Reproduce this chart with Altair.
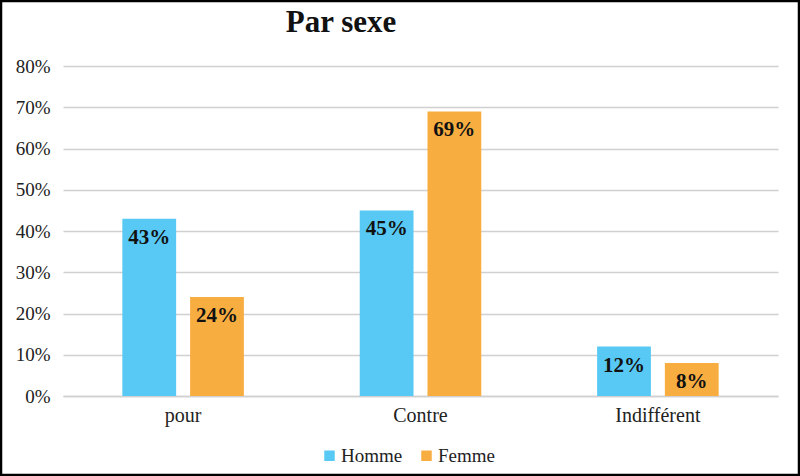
import altair as alt
import pandas as pd

categories = ["pour", "Contre", "Indifférent"]
series = ["Homme", "Femme"]
homme = [0.43, 0.45, 0.12]
femme = [0.24, 0.69, 0.08]
labels_h = ["43%", "45%", "12%"]
labels_f = ["24%", "69%", "8%"]
title_text = "Par sexe"

rows = []
for i, c in enumerate(categories):
    rows.append({"cat": c, "sexe": "Homme", "val": homme[i], "lab": labels_h[i]})
    rows.append({"cat": c, "sexe": "Femme", "val": femme[i], "lab": labels_f[i]})
df = pd.DataFrame(rows)

FONT = "Liberation Serif, Times New Roman, serif"

x = alt.X("cat:N", sort=categories, title=None,
          scale=alt.Scale(paddingInner=0.488, paddingOuter=0.25),
          axis=alt.Axis(labelAngle=0, labelFontSize=20, labelColor="#222",
                        labelFont=FONT, labelPadding=9, ticks=False, grid=False,
                        domain=True, domainColor="#d0d0d0", domainWidth=1.5))
xo = alt.XOffset("sexe:N", sort=series, scale=alt.Scale(paddingInner=0.206))
y = alt.Y("val:Q", title=None,
          scale=alt.Scale(domain=[0, 0.8]),
          axis=alt.Axis(format=".0%", values=[0, .1, .2, .3, .4, .5, .6, .7, .8],
                        labelFontSize=19, labelColor="#222", labelFont=FONT,
                        labelPadding=13, ticks=False, domain=False,
                        gridColor="#d0d0d0", gridWidth=1.5))

bars = alt.Chart(df).mark_bar().encode(
    x=x, xOffset=xo, y=y,
    color=alt.Color("sexe:N", sort=series,
                    scale=alt.Scale(domain=series, range=["#58C9F4", "#F8AD41"]),
                    legend=alt.Legend(title=None, orient="none", direction="horizontal",
                                      legendX=257, legendY=380,
                                      symbolType="square", symbolSize=110,
                                      symbolStrokeWidth=0,
                                      labelFont=FONT, labelFontSize=19,
                                      labelColor="#222", labelOffset=2,
                                      columnPadding=14)),
)

text = alt.Chart(df).mark_text(baseline="top", dy=8, font=FONT, fontSize=21,
                               fontWeight="bold", color="#111").encode(
    x=alt.X("cat:N", sort=categories), xOffset=alt.XOffset("sexe:N", sort=series),
    y="val:Q", text="lab:N")

title = alt.Chart(pd.DataFrame({"t": [title_text]})).mark_text(
    font=FONT, fontSize=31, fontWeight="bold", color="#111",
    align="center", baseline="alphabetic").encode(
    x=alt.value(278), y=alt.value(-34), text="t:N")

border = alt.Chart(pd.DataFrame({"a": [0]})).mark_rect(
    fill=None, stroke="black", strokeWidth=2.5, clip=False).encode(
    x=alt.value(-62), x2=alt.value(736), y=alt.value(-65), y2=alt.value(409))

chart = alt.layer(bars, text, title, border).properties(
    width=715, height=330,
    padding={"left": 63, "top": 66, "right": 22, "bottom": 80},
    autosize=alt.AutoSizeParams(type="none"),
    background="white",
).configure_view(stroke=None)

chart.save("out.html", embed_options={"renderer": "svg", "actions": False})
